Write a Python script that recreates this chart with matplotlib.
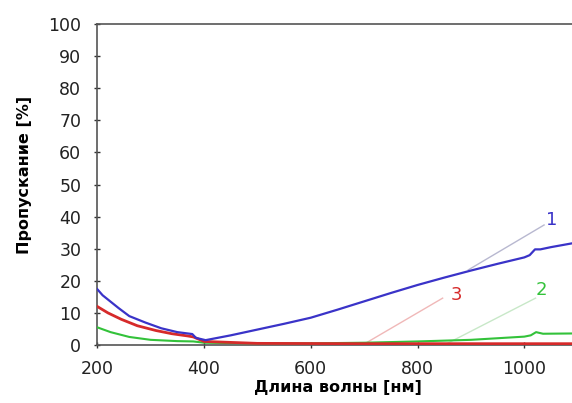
import matplotlib
matplotlib.use("Agg")
import matplotlib.pyplot as plt

# wavelength (nm) / transmission (%)
wl_1 = [200, 210, 225, 240, 260, 290, 320, 350, 378, 385, 403, 450, 500, 550, 600, 650,
        700, 750, 800, 850, 900, 950, 1000, 1010, 1020, 1030, 1050, 1100]
tr_1 = [17.4, 15.5, 13.5, 11.5, 9, 7, 5.2, 4, 3.4, 2.2, 1.5, 3, 4.8, 6.6, 8.5, 11, 13.6,
        16.2, 18.7, 21, 23.2, 25.3, 27.3, 28, 29.8, 29.8, 30.5, 32]

wl_2 = [200, 225, 260, 300, 350, 380, 400, 500, 600, 700, 800, 900, 950, 1000, 1012,
        1022, 1035, 1100]
tr_2 = [5.5, 4, 2.5, 1.6, 1.2, 1.1, 0.7, 0.5, 0.5, 0.7, 1.1, 1.6, 2.1, 2.6, 3, 4, 3.5, 3.6]

wl_3 = [200, 220, 245, 275, 310, 340, 370, 380, 400, 500, 700, 900, 1100]
tr_3 = [12, 10, 8, 6, 4.5, 3.5, 2.8, 2.5, 1.1, 0.5, 0.4, 0.4, 0.4]

labels = ["1", "2", "3"]
label_pos = [(1052, 39), (1032, 17), (873, 15.6)]
leader_from = [(1037, 37.4), (1021, 14.6), (847, 14.6)]
leader_to = [(895, 23.4), (850, 0), (697, 0)]

x_ticks = [200, 400, 600, 800, 1000]
y_ticks = list(range(0, 101, 10))

colors = ["#3a33c8", "#33c23a", "#d62a2a"]
leader_colors = ["#b8b8d0", "#c8e8c8", "#f0b8b8"]

plt.rcParams["font.family"] = ["DejaVu Sans"]

fig = plt.figure(figsize=(5.72, 4.03), dpi=100)
ax = fig.add_axes([0.17, 0.144, 0.84, 0.796])

for (fx, fy), (tx, ty), c in zip(leader_from, leader_to, leader_colors):
    ax.plot([fx, tx], [fy, ty], color=c, lw=1.0, zorder=1)

ax.plot(wl_2, tr_2, color=colors[1], lw=1.5, zorder=3)
ax.plot(wl_3, tr_3, color=colors[2], lw=2.0, zorder=4)
ax.plot(wl_1, tr_1, color=colors[0], lw=1.6, zorder=5)

for lab, (lx, ly), c in zip(labels, label_pos, colors):
    ax.text(lx, ly, lab, color=c, fontsize=13, ha="center", va="center")

ax.set_xlim(200, 1100)
ax.set_ylim(0, 100)
ax.set_xticks(x_ticks)
ax.set_yticks(y_ticks)
ax.tick_params(direction="inout", length=5, width=1, colors="#333333",
               labelsize=12.5, labelcolor="#222222")
ax.tick_params(axis="x", pad=8)
ax.tick_params(axis="y", pad=9)
for side in ["left", "bottom", "top"]:
    ax.spines[side].set_color("#555555")
    ax.spines[side].set_linewidth(1.2)
ax.spines["right"].set_visible(False)

ax.set_xlabel("Длина волны [нм]", fontsize=11.5, fontweight="bold", labelpad=2)
ax.set_ylabel("Пропускание [%]", fontsize=11.5, fontweight="bold")
ax.yaxis.set_label_coords(-0.135, 0.53)

fig.savefig("out.png", dpi=100)
